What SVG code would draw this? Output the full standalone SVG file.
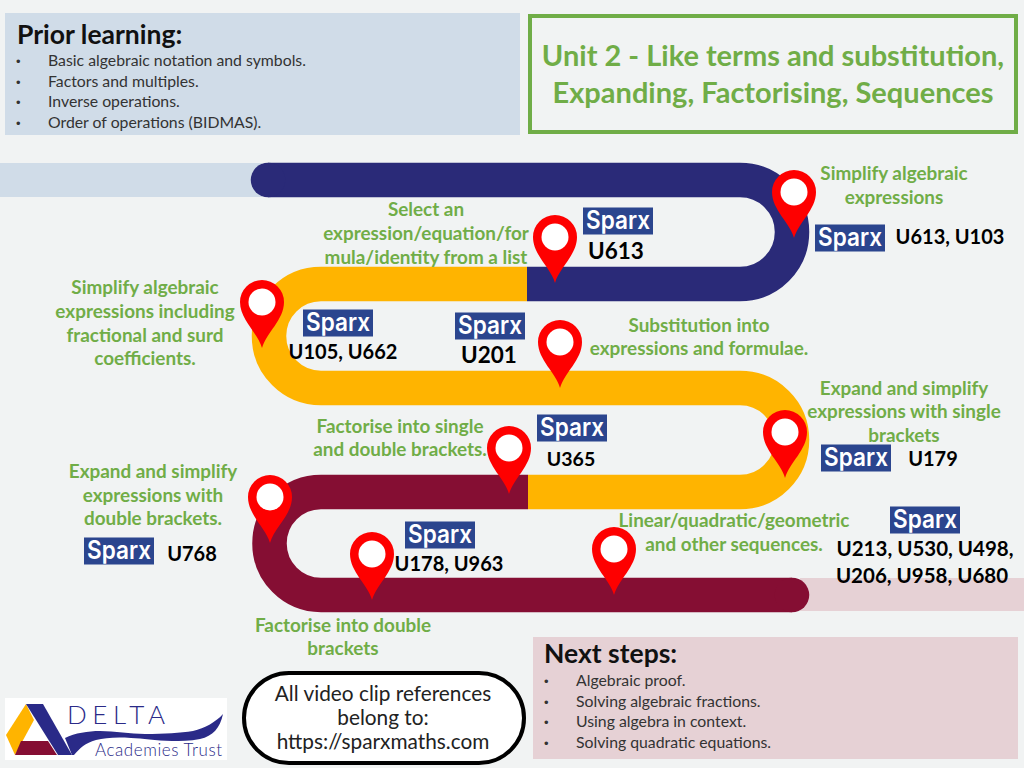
<svg xmlns="http://www.w3.org/2000/svg" width="1024" height="768" viewBox="0 0 1024 768">
<style>
text{font-family:Lato,"Open Sans",sans-serif}
.g{fill:#70ad47;font-size:18.9px;font-weight:700;text-anchor:middle}
.c{fill:#000;font-size:20px;font-weight:700;text-anchor:middle}
.k{font-size:22.5px}
.b{fill:#333;font-size:15.8px}
.bu{font-family:"Liberation Sans",sans-serif;font-size:13px}
.h{fill:#111;font-size:26.5px;font-weight:700}
.s{fill:#fff;font-family:Inter,sans-serif;font-size:25px;font-weight:600;text-anchor:middle}
.band{fill:none;stroke-width:34.5}
</style>
<defs>
<g id="pin"><path d="M0 36C-4 21-22 8-22-10A22 22 0 1 1 22-10C22 8 4 21 0 36Z" fill="#fe0000"/><circle cy="-10" r="13.5" fill="#fff"/></g>
<g id="sparx"><rect x="-35" y="-13.5" width="70" height="27" fill="#2b458e"/><text class="s" y="7.5" textLength="64" lengthAdjust="spacingAndGlyphs">Sparx</text></g>
</defs>
<rect width="1024" height="768" fill="#f1f3f3"/>
<g id="prior"><rect x="5" y="13" width="515" height="122" fill="#d0dce8"/>
<text class="h" x="17" y="44">Prior learning:</text>
<g class="b"><text class="bu" x="16" y="66">•</text><text x="48" y="66">Basic algebraic notation and symbols.</text>
<text class="bu" x="16" y="87">•</text><text x="48" y="87">Factors and multiples.</text>
<text class="bu" x="16" y="107">•</text><text x="48" y="107">Inverse operations.</text>
<text class="bu" x="16" y="128">•</text><text x="48" y="128">Order of operations (BIDMAS).</text></g></g>
<g id="title"><rect x="530" y="16" width="486" height="116" fill="#f1f3f3" stroke="#70ad47" stroke-width="4"/>
<text x="773" y="66" fill="#70ad47" font-size="29" font-weight="700" text-anchor="middle">Unit 2 - Like terms and substitution,</text>
<text x="773" y="103" fill="#70ad47" font-size="29" font-weight="700" text-anchor="middle">Expanding, Factorising, Sequences</text></g>
<g id="connectors">
<rect x="0" y="163" width="262" height="34" fill="#d0dce8"/>
<rect x="800" y="578" width="224" height="33" fill="#e6d1d5"/>
<path class="band" d="M268 180H740A52 52 0 0 1 740 284H527" stroke="#2a2a78"/>
<circle cx="268" cy="180" r="17.25" fill="#2a2a78"/>
<path class="band" d="M527 284H321A52 52 0 0 0 321 388H740A52 52 0 0 1 740 492H528" stroke="#ffb400"/>
<path class="band" d="M528 492H321A51.5 51.5 0 0 0 321 595H792" stroke="#850e33"/>
<circle cx="792" cy="595" r="17.25" fill="#850e33"/>
</g>
<g id="n1"><use href="#pin" x="794" y="202"/>
<text class="g" x="894" y="180">Simplify algebraic</text><text class="g" x="894" y="204">expressions</text>
<use href="#sparx" x="850" y="238"/><text class="c" x="950" y="244">U613, U103</text></g>
<g id="n2"><use href="#pin" x="555" y="247"/>
<text class="g" x="426" y="216">Select an</text><text class="g" x="426" y="240">expression/equation/for</text><text class="g" x="426" y="264">mula/identity from a list</text>
<use href="#sparx" x="618" y="221"/><text class="c k" x="616" y="259">U613</text></g>
<g id="n3"><use href="#pin" x="262" y="312"/>
<text class="g" x="145" y="294">Simplify algebraic</text><text class="g" x="145" y="318">expressions including</text><text class="g" x="145" y="342">fractional and surd</text><text class="g" x="145" y="365">coefficients.</text>
<use href="#sparx" x="338" y="323"/><text class="c" x="343" y="359">U105, U662</text></g>
<g id="n4"><use href="#pin" x="560" y="352"/>
<text class="g" x="699" y="332">Substitution into</text><text class="g" x="699" y="355">expressions and formulae.</text>
<use href="#sparx" x="490" y="326"/><text class="c k" x="489" y="363">U201</text></g>
<g id="n5"><use href="#pin" x="785" y="442"/>
<text class="g" x="904" y="395">Expand and simplify</text><text class="g" x="904" y="418">expressions with single</text><text class="g" x="904" y="442">brackets</text>
<use href="#sparx" x="856" y="458"/><text class="c" x="933" y="466">U179</text></g>
<g id="n6"><use href="#pin" x="509" y="458"/>
<text class="g" x="400" y="433">Factorise into single</text><text class="g" x="400" y="456">and double brackets.</text>
<use href="#sparx" x="572" y="428"/><text class="c" x="571" y="466" style="font-size:19.5px">U365</text></g>
<g id="n7"><use href="#pin" x="270" y="507"/>
<text class="g" x="153" y="478">Expand and simplify</text><text class="g" x="153" y="502">expressions with</text><text class="g" x="153" y="525">double brackets.</text>
<use href="#sparx" x="119" y="551"/><text class="c" x="192" y="561">U768</text></g>
<g id="n8"><use href="#pin" x="372" y="564"/>
<text class="g" x="343" y="632">Factorise into double</text><text class="g" x="343" y="655">brackets</text>
<use href="#sparx" x="440" y="535"/><text class="c" x="449" y="571">U178, U963</text></g>
<g id="n9"><use href="#pin" x="614" y="559"/>
<text class="g" x="734" y="527">Linear/quadratic/geometric</text><text class="g" x="734" y="551">and other  sequences.</text>
<use href="#sparx" x="925" y="520"/><text class="c" x="925" y="556" style="font-size:20.5px">U213, U530, U498,</text><text class="c" x="922" y="583" style="font-size:20.5px">U206, U958, U680</text></g>
<g id="next"><rect x="533" y="637" width="485" height="122" fill="#e6d1d5"/>
<text class="h" x="544" y="663">Next steps:</text>
<g class="b"><text class="bu" x="544" y="686">•</text><text x="576" y="686">Algebraic proof.</text>
<text class="bu" x="544" y="707">•</text><text x="576" y="707">Solving algebraic fractions.</text>
<text class="bu" x="544" y="727">•</text><text x="576" y="727">Using algebra in context.</text>
<text class="bu" x="544" y="748">•</text><text x="576" y="748">Solving quadratic equations.</text></g></g>
<g id="note"><rect x="244" y="673" width="280" height="90" rx="45" fill="#fff" stroke="#000" stroke-width="4"/>
<g fill="#222" font-size="20.8" text-anchor="middle"><text x="383" y="701">All video clip references</text><text x="383" y="725">belong to:</text><text x="383" y="749">https://sparxmaths.com</text></g></g>
<g id="logo"><rect x="5" y="698" width="222" height="62" fill="#fff"/>
<path d="M26 704 6 735 15 755 34 720Z" fill="#ffb400"/>
<path d="M21 741H48L57 755H15Z" fill="#850e33"/>
<path d="M26 704H43L72 755H58Z" fill="#2a2a88"/>
<path d="M65 738C75 733 88 731 100 731 115 731 130 734 145 734 165 734 180 733 193 731 205 728 216 722 223 714 220 728 213 736 200 739 190 741 180 741 172 741 155 741 143 738 131 738 115 737 105 738 96 740 85 743 80 748 74 755H72Z" fill="#2a2a88"/>
<text x="67" y="724" font-size="26" font-weight="300" fill="#2a2a88" textLength="98">DELTA</text>
<text x="95" y="756" font-size="17" font-weight="300" fill="#2a2a88" textLength="127">Academies Trust</text></g>
</svg>
